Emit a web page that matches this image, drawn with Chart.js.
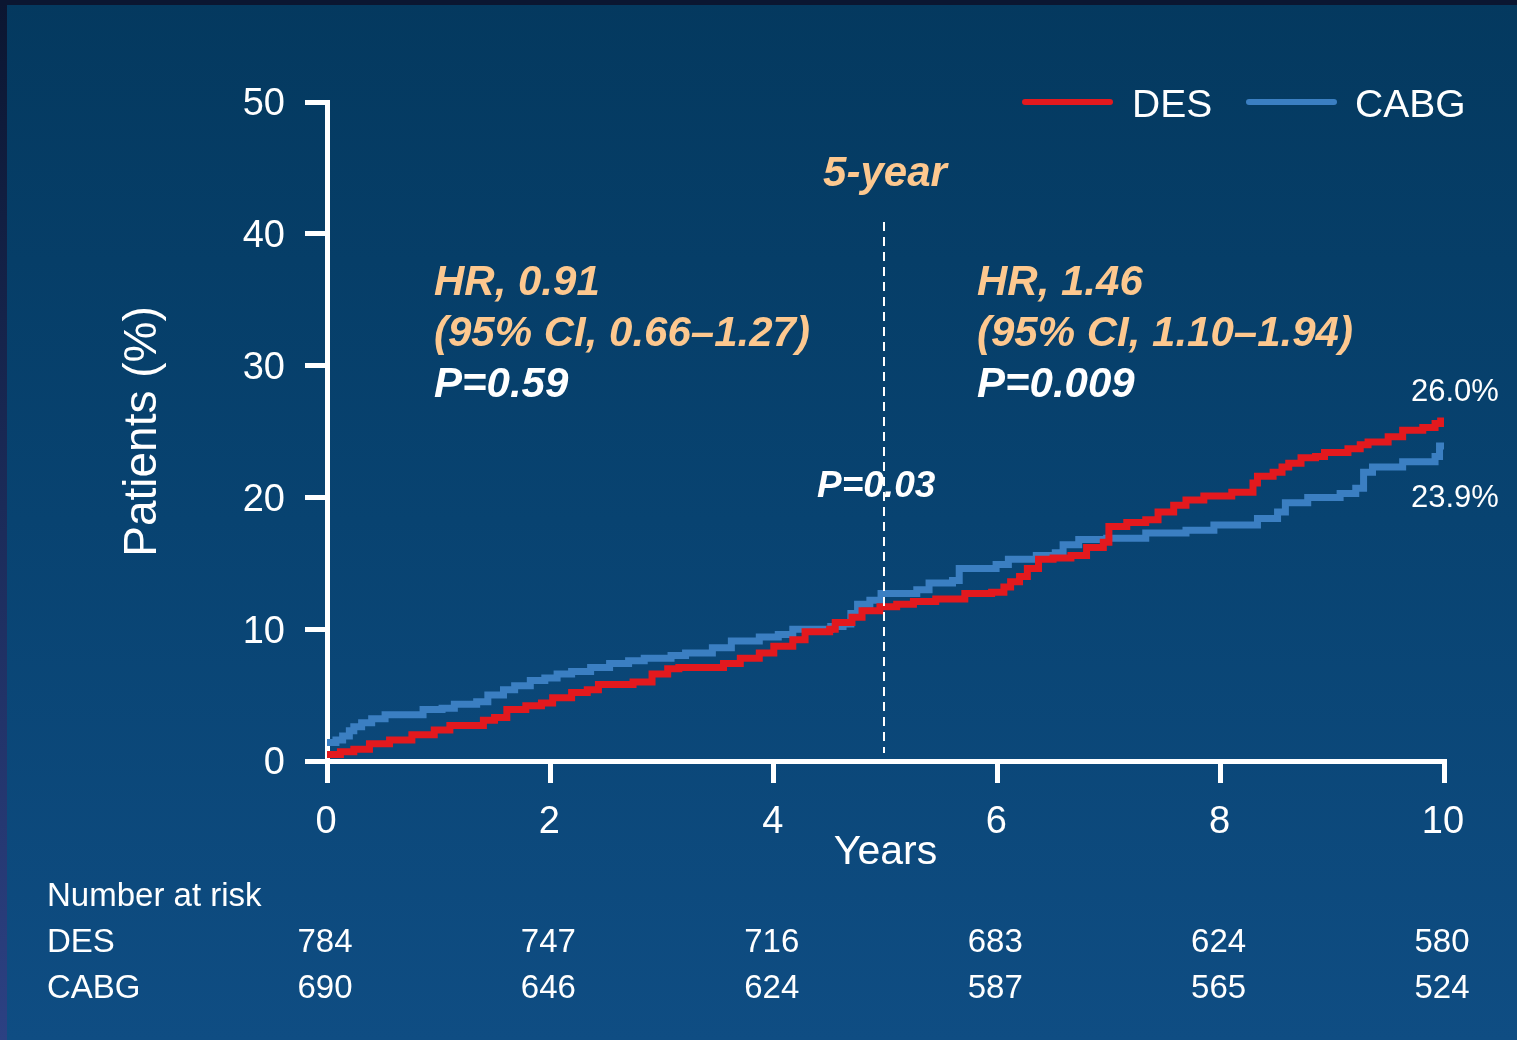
<!DOCTYPE html>
<html>
<head>
<meta charset="utf-8">
<script src="https://cdn.jsdelivr.net/npm/chart.js@4.4.1/dist/chart.umd.min.js"></script>
<style>
  html, body { margin: 0; padding: 0; background: #073d69; overflow: hidden; }
  canvas { display: block; }
</style>
</head>
<body>
<canvas id="km" width="1517" height="1040"></canvas>
<script>
const FONT = '"Liberation Sans", Arial, Helvetica, sans-serif';

// Cumulative event rate (%) by arm: time in years and the value reached at that time
const desYears = [0, 0.12, 0.24, 0.38, 0.56, 0.76, 0.96, 1.1, 1.4, 1.5, 1.61, 1.78, 1.92, 2.02, 2.19, 2.33, 2.43, 2.74, 2.91, 3.05, 3.15, 3.55, 3.7, 3.87, 4.0, 4.17, 4.28, 4.5, 4.55, 4.7, 4.79, 4.95, 5.1, 5.25, 5.45, 5.71, 5.95, 6.06, 6.12, 6.2, 6.27, 6.37, 6.5, 6.66, 6.8, 6.95, 7.0, 7.16, 7.33, 7.44, 7.58, 7.69, 7.85, 8.1, 8.29, 8.33, 8.47, 8.55, 8.61, 8.72, 8.85, 8.93, 9.14, 9.25, 9.32, 9.5, 9.63, 9.81, 9.92, 9.97, 10];
const desPct   = [0.5, 0.7, 0.9, 1.3, 1.6, 2.0, 2.35, 2.7, 3.1, 3.3, 3.9, 4.2, 4.4, 4.8, 5.2, 5.4, 5.8, 6.0, 6.6, 7.0, 7.1, 7.4, 7.8, 8.2, 8.7, 9.2, 9.8, 10.0, 10.5, 10.9, 11.4, 11.7, 11.9, 12.1, 12.3, 12.7, 12.8, 13.2, 13.6, 14.0, 14.6, 15.3, 15.4, 15.6, 16.2, 16.6, 17.8, 18.1, 18.3, 18.9, 19.4, 19.8, 20.1, 20.4, 21.1, 21.6, 21.9, 22.3, 22.6, 23.0, 23.1, 23.4, 23.7, 24.0, 24.2, 24.6, 25.1, 25.3, 25.6, 25.8, 26.0];

const cabgYears = [0, 0.08, 0.14, 0.2, 0.24, 0.31, 0.4, 0.52, 0.86, 1.03, 1.14, 1.34, 1.44, 1.58, 1.68, 1.82, 1.95, 2.06, 2.19, 2.36, 2.53, 2.7, 2.84, 3.08, 3.21, 3.45, 3.62, 3.87, 4.04, 4.17, 4.51, 4.62, 4.69, 4.75, 4.86, 4.96, 5.28, 5.39, 5.6, 5.66, 5.99, 6.1, 6.35, 6.52, 6.59, 6.73, 6.98, 7.33, 7.69, 7.94, 8.33, 8.51, 8.58, 8.78, 9.07, 9.21, 9.28, 9.36, 9.63, 9.92, 9.96, 10];
const cabgPct   = [1.4, 1.6, 1.9, 2.3, 2.6, 2.9, 3.2, 3.5, 3.9, 4.0, 4.3, 4.5, 5.0, 5.4, 5.7, 6.1, 6.3, 6.6, 6.8, 7.1, 7.4, 7.6, 7.8, 8.0, 8.2, 8.6, 9.1, 9.4, 9.6, 10.0, 10.2, 10.4, 11.2, 11.9, 12.2, 12.7, 13.0, 13.5, 13.7, 14.6, 14.9, 15.3, 15.6, 15.8, 16.4, 16.8, 16.9, 17.3, 17.5, 17.9, 18.4, 18.9, 19.6, 20.0, 20.3, 20.7, 21.9, 22.3, 22.7, 23.1, 23.9, 23.9];

// Number at risk at each labelled year
const riskYears = [0, 2, 4, 6, 8, 10];
const riskDES   = [784, 747, 716, 683, 624, 580];
const riskCABG  = [690, 646, 624, 587, 565, 524];

// Landmark analysis annotations
const landmarkYear = 5;
const landmarkLabel = '5-year';
const hrEarly = ['HR, 0.91', '(95% CI, 0.66\u20131.27)', 'P=0.59'];
const hrLate  = ['HR, 1.46', '(95% CI, 1.10\u20131.94)', 'P=0.009'];
const interactionP = 'P=0.03';

const seriesNames  = ['DES', 'CABG'];
const seriesColors = ['#e3191e', '#3b7fc2'];

const PEACH = '#fdc88f';
const WHITE = '#ffffff';

function toPoints(xs, ys) { return xs.map((x, i) => ({ x: x, y: ys[i] })); }

const decor = {
  id: 'decor',
  beforeDraw(chart) {
    const { ctx, width, height } = chart;
    ctx.save();
    const bg = ctx.createLinearGradient(0, 0, 0, height);
    bg.addColorStop(0, '#04395f');
    bg.addColorStop(0.5, '#084371');
    bg.addColorStop(1, '#0f4d83');
    ctx.fillStyle = bg;
    ctx.fillRect(0, 0, width, height);
    const edge = ctx.createLinearGradient(0, 0, 0, height);
    edge.addColorStop(0, '#0b1631');
    edge.addColorStop(1, '#2c4183');
    ctx.fillStyle = edge;
    ctx.fillRect(0, 0, 7, height);
    ctx.fillStyle = '#0b1631';
    ctx.fillRect(0, 0, width, 5);
    ctx.restore();
  },
  afterDatasetsDraw(chart) {
    const { ctx, scales: { x, y } } = chart;
    ctx.save();
    // landmark divider
    const lx = Math.floor(x.getPixelForValue(landmarkYear)) - 1;
    ctx.strokeStyle = WHITE;
    ctx.lineWidth = 2;
    ctx.setLineDash([9, 6]);
    ctx.beginPath();
    ctx.moveTo(lx, 222);
    ctx.lineTo(lx, y.getPixelForValue(0) - 8);
    ctx.stroke();
    ctx.setLineDash([]);

    ctx.textBaseline = 'alphabetic';
    ctx.fillStyle = PEACH;
    ctx.textAlign = 'center';
    ctx.font = 'italic bold 42px ' + FONT;
    ctx.fillText(landmarkLabel, lx + 1, 186);

    const block = (lines, left) => {
      ctx.textAlign = 'left';
      ctx.font = 'italic bold 42px ' + FONT;
      lines.forEach((t, i) => {
        ctx.fillStyle = i < 2 ? PEACH : WHITE;
        ctx.fillText(t, left, 295 + i * 51);
      });
    };
    block(hrEarly, 434);
    block(hrLate, 977);

    ctx.fillStyle = WHITE;
    ctx.textAlign = 'left';
    ctx.font = 'italic bold 37px ' + FONT;
    ctx.fillText(interactionP, 817, 497);

    // end-of-follow-up values
    ctx.font = '31px ' + FONT;
    ctx.textAlign = 'left';
    const desEnd = desPct[desPct.length - 1];
    const cabgEnd = cabgPct[cabgPct.length - 1];
    const xe = x.getPixelForValue(10);
    ctx.fillText(desEnd.toFixed(1) + '%', xe - 33, y.getPixelForValue(desEnd) - 17);
    ctx.fillText(cabgEnd.toFixed(1) + '%', xe - 33, y.getPixelForValue(cabgEnd) + 61);
    ctx.restore();
  },
  afterDraw(chart) {
    const { ctx, scales: { x } } = chart;
    ctx.save();
    // legend
    const legendItems = [
      { x0: 1025, x1: 1110, tx: 1132 },
      { x0: 1249, x1: 1334, tx: 1355 }
    ];
    chart.data.datasets.forEach((ds, i) => {
      const it = legendItems[i];
      ctx.strokeStyle = ds.borderColor;
      ctx.lineWidth = 6;
      ctx.lineCap = 'round';
      ctx.beginPath();
      ctx.moveTo(it.x0, 102);
      ctx.lineTo(it.x1, 102);
      ctx.stroke();
      ctx.fillStyle = WHITE;
      ctx.font = '39px ' + FONT;
      ctx.textAlign = 'left';
      ctx.textBaseline = 'alphabetic';
      ctx.fillText(ds.label, it.tx, 117);
    });

    // number-at-risk table
    ctx.fillStyle = WHITE;
    ctx.font = '33px ' + FONT;
    ctx.textAlign = 'left';
    ctx.fillText('Number at risk', 47, 906);
    ctx.fillText(seriesNames[0], 47, 952);
    ctx.fillText(seriesNames[1], 47, 998);
    ctx.textAlign = 'center';
    riskYears.forEach((yr, i) => {
      const px = x.getPixelForValue(yr) - 2;
      ctx.fillText(String(riskDES[i]), px, 952);
      ctx.fillText(String(riskCABG[i]), px, 998);
    });
    ctx.restore();
  }
};

const axisLine = {
  display: true,
  drawOnChartArea: false,
  drawTicks: true,
  tickLength: 22,
  tickWidth: 5,
  tickColor: WHITE,
  color: WHITE,
  lineWidth: 5
};

new Chart(document.getElementById('km'), {
  type: 'line',
  data: {
    datasets: [
      {
        label: seriesNames[0],
        data: toPoints(desYears, desPct),
        borderColor: seriesColors[0],
        borderWidth: 7,
        stepped: true,
        pointRadius: 0,
        fill: false
      },
      {
        label: seriesNames[1],
        data: toPoints(cabgYears, cabgPct),
        borderColor: seriesColors[1],
        borderWidth: 7,
        stepped: true,
        pointRadius: 0,
        fill: false
      }
    ]
  },
  options: {
    responsive: false,
    devicePixelRatio: 1,
    animation: false,
    events: [],
    layout: { padding: { top: 102, right: 73, left: 0, bottom: 0 } },
    plugins: {
      legend: { display: false },
      tooltip: { enabled: false },
      title: { display: false }
    },
    scales: {
      x: {
        type: 'linear',
        min: 0,
        max: 10,
        afterFit(scale) { scale.height = 279; },
        afterBuildTicks(scale) { scale.ticks = riskYears.map(v => ({ value: v })); },
        grid: axisLine,
        border: { display: true, color: WHITE, width: 5 },
        ticks: { color: WHITE, font: { family: FONT, size: 38 }, padding: 17, maxRotation: 0, labelOffset: -1 },
        title: {
          display: true,
          text: 'Years',
          color: WHITE,
          font: { family: FONT, size: 41 },
          padding: { top: 0, bottom: 163 }
        }
      },
      y: {
        min: 0,
        max: 50,
        afterFit(scale) { scale.width = 327; },
        grid: axisLine,
        border: { display: true, color: WHITE, width: 5 },
        ticks: { stepSize: 10, color: WHITE, font: { family: FONT, size: 38 }, padding: 20, labelOffset: 3 },
        title: {
          display: true,
          text: 'Patients (%)',
          color: WHITE,
          font: { family: FONT, size: 46 },
          padding: { top: 116, bottom: 0 }
        }
      }
    }
  },
  plugins: [decor]
});
</script>
</body>
</html>
